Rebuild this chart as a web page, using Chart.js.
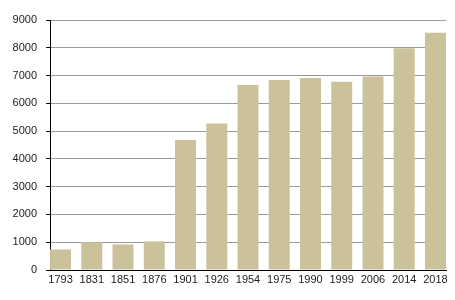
<!DOCTYPE html>
<html>
<head>
<meta charset="utf-8">
<script src="https://cdn.jsdelivr.net/npm/chart.js@4"></script>
<style>
html,body{margin:0;padding:0;background:#fff;}
#wrap{width:455px;height:300px;}
</style>
</head>
<body>
<div id="wrap"><canvas id="c" width="455" height="300"></canvas></div>
<script>
const categories = ['1793','1831','1851','1876','1901','1926','1954','1975','1990','1999','2006','2014','2018'];
const population = [740, 1000, 920, 1030, 4680, 5270, 6660, 6840, 6910, 6780, 6970, 7980, 8540];
const yTicks = [0,1000,2000,3000,4000,5000,6000,7000,8000,9000];

const points = categories.map((c, i) => ({x: i, y: population[i]}));
const font = {family: '"Liberation Sans", Arial, sans-serif', size: 11};

new Chart(document.getElementById('c'), {
  type: 'bar',
  data: {
    datasets: [{
      data: points,
      backgroundColor: '#cbc29b',
      borderWidth: 0,
      categoryPercentage: 1,
      barPercentage: 0.672
    }]
  },
  options: {
    responsive: false,
    animation: false,
    events: [],
    layout: {padding: {left: 0, right: 9, top: 20, bottom: 0}},
    plugins: {legend: {display: false}, tooltip: {enabled: false}},
    scales: {
      x: {
        type: 'linear',
        offset: false,
        min: -0.337,
        max: 12.337,
        afterBuildTicks: s => { s.ticks = categories.map((c, i) => ({value: i})); },
        afterFit: s => { s.height = 30; },
        grid: {display: false, drawTicks: false},
        border: {display: true, color: '#000', width: 1},
        ticks: {
          autoSkip: false,
          maxRotation: 0,
          padding: 3,
          color: '#222',
          font: font,
          callback: v => categories[v]
        }
      },
      y: {
        min: 0,
        max: 9000,
        afterBuildTicks: s => {
          const t = [];
          for (let i = 0; i < yTicks.length; i++) {
            t.push({value: yTicks[i]});
            if (i < yTicks.length - 1) t.push({value: (yTicks[i] + yTicks[i + 1]) / 2});
          }
          s.ticks = t;
        },
        afterFit: s => { s.width = 50; },
        grid: {
          color: c => (c.tick && yTicks.includes(c.tick.value)) ? '#9a9a9a' : '#d2d2d2',
          tickColor: '#000',
          tickLength: 4,
          lineWidth: 1
        },
        border: {display: true, color: '#000', width: 1},
        ticks: {
          padding: 9,
          color: '#222',
          font: font,
          callback: v => yTicks.includes(v) ? String(v) : ''
        }
      }
    }
  }
});
</script>
</body>
</html>
